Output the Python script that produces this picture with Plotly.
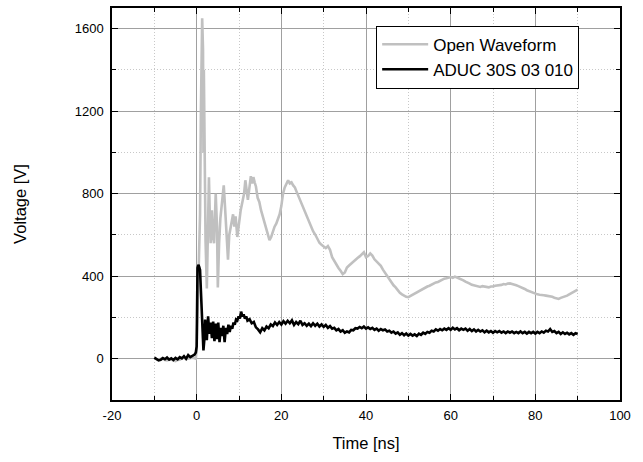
import plotly.graph_objects as go

# ---------------- data ----------------
open_x = [-10, -9.5, -9, -8.5, -8, -7.5, -7, -6.5, -6, -5.5, -5, -4.5, -4, -3.5, -3, -2.5, -2, -1.5, -1, -0.5, -0.2, 0.0,
          0.3, 0.5, 0.8, 1.0, 1.3, 1.5, 1.6, 1.7, 1.9, 2.1, 2.4, 2.6, 2.9, 3.1, 3.3, 3.6, 3.8, 4.1, 4.5, 4.8, 5.0, 5.3,
          5.6, 6.0, 6.4, 6.8, 7.1, 7.4, 7.7, 8.0, 8.3, 8.6, 8.9, 9.2, 9.6, 10.0, 10.4, 10.8, 11.2, 11.5, 11.8, 12.1,
          12.4, 12.8, 13.1, 13.4, 13.7, 14.0, 14.4, 14.8, 15.2, 15.6, 16.0, 16.4, 16.8, 17.2, 17.6, 18.0, 18.4, 18.8,
          19.2, 19.6, 20.0, 20.4, 20.8, 21.2, 21.6, 22.0, 22.4, 22.8, 23.2, 23.6, 24.0, 24.5, 25.0, 25.5, 26.0, 26.5,
          27.0, 27.5, 28.0, 28.5, 29.0, 29.5, 30.0, 30.5, 31.0, 31.5, 32.0, 32.5, 33.0, 33.5, 34.0, 34.5, 35.0, 35.5,
          36.0, 36.5, 37.0, 37.5, 38.0, 38.5, 39.0, 39.5, 40.0, 40.5, 41.0, 41.5, 42.0, 42.5, 43.0, 43.5, 44.0, 44.5,
          45.0, 45.5, 46.0, 46.5, 47.0, 47.5, 48.0, 48.5, 49.0, 49.5, 50.0, 50.5, 51.0, 51.5, 52.0, 52.5, 53.0, 53.5,
          54.0, 54.5, 55.0, 55.5, 56.0, 56.5, 57.0, 57.5, 58.0, 58.5, 59.0, 59.5, 60.0, 60.5, 61.0, 61.5, 62.0, 62.5,
          63.0, 63.5, 64.0, 64.5, 65.0, 65.5, 66.0, 66.5, 67.0, 67.5, 68.0, 68.5, 69.0, 69.5, 70.0, 70.5, 71.0, 71.5,
          72.0, 72.5, 73.0, 73.5, 74.0, 74.5, 75.0, 75.5, 76.0, 76.5, 77.0, 77.5, 78.0, 78.5, 79.0, 79.5, 80.0, 80.5,
          81.0, 81.5, 82.0, 82.5, 83.0, 83.5, 84.0, 84.5, 85.0, 85.5, 86.0, 86.5, 87.0, 87.5, 88.0, 88.5, 89.0, 89.5, 90.0]
open_v = [2, -3, -5, 0, 0, -6, -8, -2, -3, -9, -12, -6, -5, 2, 5, -2, 0, 4, 5, 2, 0, 50,
          300, 580, 700, 1200, 1650, 1500, 1000, 1400, 900, 570, 340, 600, 880, 700, 560, 720, 600, 560, 800, 640, 345, 560,
          680, 760, 840, 700, 580, 480, 600, 640, 660, 700, 640, 690, 590, 660, 720, 760, 800, 865, 800, 770,
          820, 885, 850, 880, 855, 835, 780, 760, 720, 690, 660, 640, 600, 575, 590, 620, 640, 655,
          680, 700, 740, 800, 830, 845, 865, 850, 855, 840, 830, 810, 790, 765, 742, 718, 692, 668,
          642, 618, 602, 584, 562, 552, 546, 536, 546, 528, 492, 472, 456, 440, 426, 410, 418, 442,
          452, 462, 470, 478, 488, 496, 508, 516, 492, 498, 510, 500, 482, 470, 462, 450, 432, 416,
          402, 386, 372, 356, 346, 332, 320, 312, 304, 300, 298, 304, 310, 316, 322, 330, 334, 340,
          344, 350, 354, 360, 364, 370, 372, 378, 384, 388, 390, 394, 396, 392, 398, 394, 390, 386,
          380, 374, 370, 364, 358, 356, 352, 350, 348, 352, 350, 346, 346, 350, 350, 354, 355, 356,
          358, 362, 360, 364, 365, 362, 360, 356, 352, 348, 342, 338, 332, 328, 322, 318, 315, 312,
          310, 310, 308, 306, 305, 302, 300, 296, 292, 290, 295, 298, 300, 306, 312, 318, 325, 330, 335]

aduc_x = [-10, -9.5, -9, -8.5, -8, -7.5, -7, -6.5, -6, -5.5, -5, -4.5, -4, -3.5, -3, -2.5, -2, -1.5, -1, -0.5, -0.2, 0.0,
          0.2, 0.4, 0.6, 0.8, 1.0, 1.2, 1.4, 1.6, 1.8, 2.0, 2.2, 2.4, 2.7, 3.0, 3.3, 3.6, 3.9, 4.2, 4.5, 4.8, 5.1, 5.4,
          5.7, 6.0, 6.3, 6.6, 6.9, 7.2, 7.5, 7.8, 8.1, 8.4, 8.7, 9.0, 9.3, 9.6, 9.9, 10.2, 10.5, 10.8, 11.1, 11.4, 11.7,
          12.0, 12.5, 13.0, 13.5, 14.0, 14.5, 15.0, 15.5, 16.0, 16.5, 17.0, 17.5, 18.0, 18.5, 19.0, 19.5, 20.0, 20.5,
          21.0, 21.5, 22.0, 22.5, 23.0, 23.5, 24.0, 24.5, 25.0, 25.5, 26.0, 26.5, 27.0, 27.5, 28.0, 28.5, 29.0, 29.5,
          30.0, 30.5, 31.0, 31.5, 32.0, 32.5, 33.0, 33.5, 34.0, 34.5, 35.0, 35.5, 36.0, 36.5, 37.0, 37.5, 38.0, 38.5,
          39.0, 39.5, 40.0, 40.5, 41.0, 41.5, 42.0, 42.5, 43.0, 43.5, 44.0, 44.5, 45.0, 45.5, 46.0, 46.5, 47.0, 47.5,
          48.0, 48.5, 49.0, 49.5, 50.0, 50.5, 51.0, 51.5, 52.0, 52.5, 53.0, 53.5, 54.0, 54.5, 55.0, 55.5, 56.0, 56.5,
          57.0, 57.5, 58.0, 58.5, 59.0, 59.5, 60.0, 60.5, 61.0, 61.5, 62.0, 62.5, 63.0, 63.5, 64.0, 64.5, 65.0, 65.5,
          66.0, 66.5, 67.0, 67.5, 68.0, 68.5, 69.0, 69.5, 70.0, 70.5, 71.0, 71.5, 72.0, 72.5, 73.0, 73.5, 74.0, 74.5,
          75.0, 75.5, 76.0, 76.5, 77.0, 77.5, 78.0, 78.5, 79.0, 79.5, 80.0, 80.5, 81.0, 81.5, 82.0, 82.5, 83.0, 83.5,
          84.0, 84.5, 85.0, 85.5, 86.0, 86.5, 87.0, 87.5, 88.0, 88.5, 89.0, 89.5, 90.0]
aduc_v = [5, 0, -8, -5, 3, -2, 6, -4, 2, -6, 4, -3, 8, 2, 12, 0, 18, 8, 14, 20, 30, 60,
          440, 455, 445, 430, 330, 250, 120, 40, 90, 190, 140, 90, 205, 120, 175, 100, 180, 85, 170, 95, 175, 80,
          150, 110, 160, 80, 150, 120, 165, 130, 160, 145, 175, 165, 190, 185, 205, 195, 228, 205, 215, 195, 205,
          185, 192, 172, 178, 152, 142, 128, 148, 138, 156, 148, 166, 158, 176, 164, 178, 166, 182,
          170, 184, 172, 186, 164, 178, 168, 184, 164, 172, 160, 170, 158, 172, 160, 170, 156, 166,
          154, 164, 150, 158, 146, 150, 138, 144, 132, 138, 126, 132, 128, 140, 138, 148, 146, 154,
          148, 156, 146, 152, 144, 150, 140, 146, 136, 144, 138, 142, 132, 136, 126, 132, 122, 128,
          116, 124, 114, 122, 112, 120, 112, 118, 110, 122, 116, 126, 120, 130, 126, 136, 132, 142,
          136, 144, 138, 146, 140, 148, 140, 150, 142, 148, 138, 146, 140, 146, 136, 144, 134, 142,
          132, 140, 132, 138, 128, 136, 128, 134, 126, 134, 128, 134, 126, 132, 124, 132, 126, 132,
          124, 130, 124, 132, 124, 130, 122, 130, 124, 130, 122, 130, 124, 132, 126, 136, 132, 144,
          130, 134, 124, 130, 120, 128, 120, 126, 118, 124, 116, 124, 120]

series_names = ["Open Waveform", "ADUC 30S 03 010"]
series_colors = ["#c0c0c0", "#000000"]

x_ticks = [-20, 0, 20, 40, 60, 80, 100]
y_ticks = [0, 400, 800, 1200, 1600]

# ---------------- figure ----------------
FONT = "Liberation Sans, Arial, sans-serif"
fig = go.Figure()
fig.add_trace(go.Scatter(x=open_x, y=open_v, mode="lines", name=series_names[0],
                         line=dict(color=series_colors[0], width=2.6)))
fig.add_trace(go.Scatter(x=aduc_x, y=aduc_v, mode="lines", name=series_names[1],
                         line=dict(color=series_colors[1], width=2.6)))

axis_common = dict(
    showline=True, linecolor="black", linewidth=1.5, mirror="ticks",
    ticks="inside", ticklen=6, tickwidth=1, tickcolor="black",
    showgrid=True, gridcolor="#a0a0a0", gridwidth=1,
    zeroline=False, automargin=False,
    tickfont=dict(family=FONT, size=13, color="black"),
)

fig.update_xaxes(
    range=[-20, 100], tickvals=x_ticks, ticktext=[str(v) for v in x_ticks],
    ticklabelstandoff=3,
    title=dict(text="Time [ns]", font=dict(family=FONT, size=16.5, color="black"), standoff=15),
    minor=dict(dtick=10, tick0=0, ticks="inside", ticklen=4, tickcolor="black",
               showgrid=True, gridcolor="#c8c8c8", griddash="1px,2px", gridwidth=1),
    **axis_common,
)
fig.update_yaxes(
    range=[-200, 1700], tickvals=y_ticks, ticktext=[str(v) for v in y_ticks],
    ticklabelstandoff=4,
    title=dict(text="Voltage [V]", font=dict(family=FONT, size=16.5, color="black"), standoff=44),
    minor=dict(dtick=200, tick0=0, ticks="inside", ticklen=4, tickcolor="black",
               showgrid=True, gridcolor="#c8c8c8", griddash="1px,2px", gridwidth=1),
    **axis_common,
)

fig.update_layout(
    width=643, height=462,
    margin=dict(l=112, r=23, t=8, b=62, autoexpand=False),
    paper_bgcolor="white", plot_bgcolor="white",
    font=dict(family=FONT, size=13, color="black"),
    legend=dict(x=0.52, y=0.955, xanchor="left", yanchor="top",
                bgcolor="white", bordercolor="black", borderwidth=1,
                font=dict(family=FONT, size=17, color="black"),
                tracegroupgap=0, itemwidth=46),
    showlegend=True,
)

fig.write_html("out.html", config={"displayModeBar": False},
               post_script="document.body.style.margin='0';document.body.style.padding='0';")
